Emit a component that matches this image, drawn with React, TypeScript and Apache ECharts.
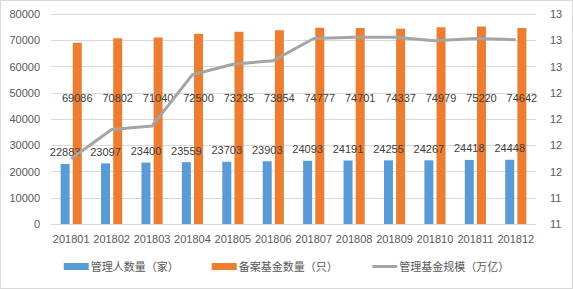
import React, { useEffect, useRef } from "react";
import * as echarts from "echarts";

const categories = ["201801","201802","201803","201804","201805","201806","201807","201808","201809","201810","201811","201812"];
const managers = [22883,23097,23400,23559,23703,23903,24093,24191,24255,24267,24418,24448];
const funds = [69086,70802,71040,72500,73235,73854,74777,74701,74337,74979,75220,74642];
const scale = [11.76,12.01,12.04,12.48,12.57,12.60,12.79,12.80,12.80,12.77,12.79,12.78];
const seriesNames = ["管理人数量（家）","备案基金数量（只）","管理基金规模（万亿）"];

const FONT = "'Liberation Sans', 'Noto Sans CJK SC', sans-serif";
const PLOT_H = 212;
const LEFT_MAX = 80000;
const FUND_LABEL_LEVEL = 48000;

export default function App() {
  const ref = useRef<HTMLDivElement>(null);
  useEffect(() => {
    if (!ref.current) return;
    const chart = echarts.init(ref.current, null, { renderer: "svg" });
    chart.setOption({
      animation: false,
      textStyle: { fontFamily: FONT },
      grid: { left: 50, right: 36, top: 13, bottom: 64, containLabel: false },
      legend: {
        bottom: 11,
        left: "center",
        itemWidth: 25,
        itemHeight: 7,
        itemGap: 33,
        textStyle: { fontFamily: FONT, fontSize: 11, color: "#595959", padding: [0, 0, 0, -3] },
        data: [
          { name: seriesNames[0], icon: "rect" },
          { name: seriesNames[1], icon: "rect" },
          { name: seriesNames[2], itemStyle: { opacity: 0 }, lineStyle: { width: 3, color: "#A5A5A5" } },
        ],
      },
      xAxis: {
        type: "category",
        data: categories,
        axisLine: { lineStyle: { color: "#d9d9d9" } },
        axisTick: { show: false },
        axisLabel: { color: "#595959", fontSize: 11, margin: 9, fontFamily: FONT, interval: 0 },
      },
      yAxis: [
        {
          type: "value",
          min: 0,
          max: LEFT_MAX,
          interval: 10000,
          axisLine: { show: false },
          axisTick: { show: false },
          splitLine: { lineStyle: { color: "#d9d9d9" } },
          axisLabel: { color: "#595959", fontSize: 11, margin: 11, fontFamily: FONT, formatter: (v: number) => String(v) },
        },
        {
          type: "value",
          min: 11.2,
          max: 13.0001,
          interval: 0.225,
          axisLine: { show: false },
          axisTick: { show: false },
          splitLine: { show: false },
          axisLabel: {
            color: "#595959",
            fontSize: 11,
            margin: 14,
            fontFamily: FONT,
            formatter: (v: number) => String(Math.round(v)),
          },
        },
      ],
      series: [
        {
          name: seriesNames[0],
          type: "bar",
          data: managers,
          barWidth: 9,
          barGap: "35%",
          itemStyle: { color: "#5B9BD5" },
          label: { show: true, position: "top", distance: 6, color: "#404040", fontSize: 11, fontFamily: FONT },
        },
        {
          name: seriesNames[1],
          type: "bar",
          barWidth: 9,
          data: funds.map((v) => ({
            value: v,
            label: { offset: [0, ((v - 2 * FUND_LABEL_LEVEL) / LEFT_MAX) * (PLOT_H / 2)] },
          })),
          itemStyle: { color: "#ED7D31" },
          label: { show: true, position: "inside", color: "#404040", fontSize: 11, fontFamily: FONT },
        },
        {
          name: seriesNames[2],
          type: "line",
          yAxisIndex: 1,
          data: scale,
          symbol: "none",
          showSymbol: false,
          lineStyle: { color: "#A5A5A5", width: 3, join: "round" },
          itemStyle: { color: "#A5A5A5" },
          label: {
            show: true,
            position: "top",
            distance: 10,
            color: "#404040",
            fontSize: 11,
            fontFamily: FONT,
            formatter: (p: any) => Number(p.value).toFixed(2),
          },
        },
      ],
    });
    return () => chart.dispose();
  }, []);
  return (
    <div
      ref={ref}
      style={{
        position: "absolute",
        left: 0,
        top: 0,
        width: 573,
        height: 289,
        boxSizing: "border-box",
        border: "1px solid #d9d9d9",
        background: "#fff",
      }}
    />
  );
}
